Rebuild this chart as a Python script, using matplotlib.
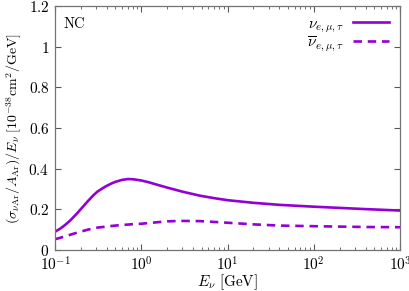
import numpy as np
import matplotlib
matplotlib.use("Agg")
import matplotlib.pyplot as pl
from matplotlib.ticker import FixedLocator, LogLocator, NullFormatter

pl.rcParams["mathtext.fontset"] = "cm"
pl.rcParams["font.family"] = "serif"
pl.rcParams["font.serif"] = ["DejaVu Serif"]

e_nu = [0.1, 0.115, 0.13, 0.15, 0.18, 0.21, 0.24, 0.28, 0.31, 0.36, 0.4,
        0.45, 0.5, 0.6, 0.7, 0.8, 1.0, 1.25, 1.5, 2.0, 3.0, 4.8, 7.0, 10.0,
        20.0, 40.0, 100.0, 200.0, 400.0, 1000.0]
xs_nu = [0.09, 0.105, 0.122, 0.145, 0.18, 0.212, 0.24, 0.27, 0.287, 0.305,
         0.316, 0.327, 0.335, 0.345, 0.349, 0.348, 0.342, 0.332, 0.322,
         0.307, 0.287, 0.267, 0.255, 0.245, 0.232, 0.222, 0.213, 0.207,
         0.201, 0.194]
xs_nubar = [0.053, 0.06, 0.067, 0.075, 0.085, 0.093, 0.1, 0.106, 0.11,
            0.113, 0.116, 0.118, 0.12, 0.123, 0.125, 0.127, 0.129, 0.133,
            0.136, 0.141, 0.143, 0.142, 0.138, 0.134, 0.126, 0.12, 0.117,
            0.115, 0.113, 0.112]

purple = "#9400d3"

fig = pl.figure(figsize=(4.09, 2.91), dpi=100)
ax = fig.add_axes([0.1345, 0.141, 0.8435, 0.838])

ax.plot(e_nu, xs_nu, color=purple, lw=1.9, label=r"$\nu_{e,\mu,\tau}$")
ax.plot(e_nu, xs_nubar, color=purple, lw=1.9, ls=(0, (3.2, 2.2)),
        label=r"$\overline{\nu}_{e,\mu,\tau}$")

ax.set_xscale("log")
ax.set_xlim(0.1, 1000)
ax.set_ylim(0, 1.2)

ax.xaxis.set_major_locator(FixedLocator([0.1, 1, 10, 100, 1000]))
ax.set_xticklabels([r"$10^{-1}$", r"$10^{0}$", r"$10^{1}$", r"$10^{2}$",
                    r"$10^{3}$"])
ax.xaxis.set_minor_locator(LogLocator(base=10, subs=np.arange(2, 10)))
ax.xaxis.set_minor_formatter(NullFormatter())
yt = [0, 0.2, 0.4, 0.6, 0.8, 1.0, 1.2]
ax.set_yticks(yt)
ax.set_yticklabels([r"$0$", r"$0.2$", r"$0.4$", r"$0.6$", r"$0.8$", r"$1$",
                    r"$1.2$"])

ax.tick_params(which="both", direction="in", top=True, right=True,
               labelsize=11, colors="0.35", labelcolor="black")
ax.tick_params(which="major", length=4, pad=4)
ax.tick_params(which="minor", length=2)
for s in ax.spines.values():
    s.set_color("0.45")
    s.set_linewidth(0.9)

ax.set_xlabel(r"$E_\nu\ \mathrm{[GeV]}$", fontsize=11, labelpad=-1)
ax.set_ylabel(r"$(\sigma_{\nu\mathrm{Ar}}/A_{\mathrm{Ar}})/E_\nu\ "
              r"[10^{-38}\mathrm{cm}^2/\mathrm{GeV}]$", fontsize=10,
              labelpad=3)

ax.text(0.022, 0.96, r"$\mathrm{NC}$", transform=ax.transAxes, fontsize=10.5,
        va="top", ha="left")

ax.legend(loc="upper right", frameon=False, markerfirst=False, fontsize=11,
          handlelength=2.35, borderaxespad=0.6, borderpad=0.1,
          labelspacing=-0.02, handletextpad=0.6)

fig.savefig("out.png", dpi=100)
